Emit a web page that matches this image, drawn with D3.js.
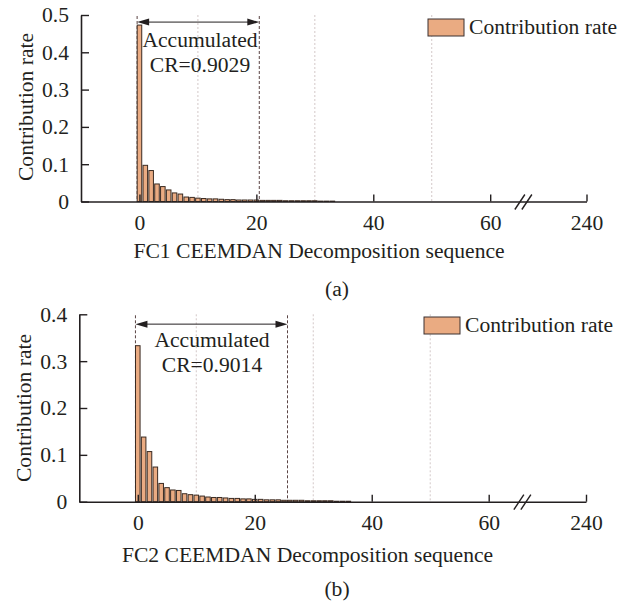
<!DOCTYPE html>
<html>
<head>
<meta charset="utf-8">
<script src="https://cdn.jsdelivr.net/npm/d3@7"></script>
<style>
  html, body { margin: 0; padding: 0; background: #fff; }
  svg { display: block; }
  text { font-family: "Liberation Serif", "Times New Roman", serif; fill: #231f20; }
</style>
</head>
<body>
<svg id="chart" width="627" height="608"></svg>
<script>
// ---------------- data ----------------
const fc1Rates = [0.473, 0.097, 0.083, 0.047, 0.040, 0.031, 0.023, 0.020, 0.012, 0.011,
                  0.009, 0.008, 0.007, 0.007, 0.006, 0.005, 0.005, 0.004, 0.004, 0.004,
                  0.004, 0.003, 0.003, 0.003, 0.003, 0.002, 0.002, 0.002, 0.002, 0.002,
                  0.002, 0.001, 0.001, 0.001];
const fc2Rates = [0.333, 0.138, 0.107, 0.074, 0.039, 0.030, 0.025, 0.024, 0.017, 0.015,
                  0.014, 0.012, 0.010, 0.009, 0.009, 0.008, 0.007, 0.007, 0.006, 0.006,
                  0.005, 0.005, 0.004, 0.004, 0.004, 0.003, 0.003, 0.003, 0.003, 0.002,
                  0.002, 0.002, 0.002, 0.002, 0.001, 0.001, 0.001];
const xTicks = [0, 20, 40, 60, 240];
const xDomain = [-10, 60, 240];
const yTicksA = [0, 0.1, 0.2, 0.3, 0.4, 0.5];
const yTicksB = [0, 0.1, 0.2, 0.3, 0.4];
const gridValues = [10, 30, 50];
const spanA = [-0.4, 20.5];
const spanB = [-0.4, 25.6];
const crLabelA = ["Accumulated", "CR=0.9029"];
const crLabelB = ["Accumulated", "CR=0.9014"];
const xTitleA = "FC1 CEEMDAN Decomposition sequence";
const xTitleB = "FC2 CEEMDAN Decomposition sequence";
const yTitle = "Contribution rate";
const legendLabel = "Contribution rate";
const panelTags = ["(a)", "(b)"];

// ---------------- style ----------------
const barFill = "#eaab82";
const barStroke = "#3b2b22";
const ink = "#231f20";
const FS = 21.6;

const svg = d3.select("#chart");

function drawPanel(p) {
  const g = svg.append("g");
  const x = d3.scaleLinear().domain(xDomain).range([p.left, p.x60, p.right]);
  const y = d3.scaleLinear().domain([0, p.yMax]).range([p.bottom, p.top]);

  // light dotted grid lines
  g.selectAll("line.grid").data(gridValues).enter().append("line")
    .attr("x1", d => x(d)).attr("x2", d => x(d))
    .attr("y1", y(p.yMax)).attr("y2", y(0))
    .attr("stroke", "#d3c8c8").attr("stroke-width", 1).attr("stroke-dasharray", "2,2");

  // dark dashed span lines
  g.selectAll("line.span").data(p.span).enter().append("line")
    .attr("x1", d => x(d)).attr("x2", d => x(d))
    .attr("y1", y(p.yMax) + 1).attr("y2", y(0))
    .attr("stroke", "#5a4444").attr("stroke-width", 1).attr("stroke-dasharray", "3,2");

  // bars
  const data = p.values.map((v, i) => ({ i, v }));
  g.selectAll("rect.bar").data(data).enter().append("rect")
    .attr("x", d => x(d.i - 0.39))
    .attr("width", d => x(d.i + 0.39) - x(d.i - 0.39))
    .attr("y", d => y(d.v))
    .attr("height", d => y(0) - y(d.v))
    .attr("fill", barFill).attr("stroke", barStroke).attr("stroke-width", 1);

  // y axis
  const yAxis = d3.axisLeft(y).tickValues(p.yTicks).tickSizeInner(-8).tickSizeOuter(0)
    .tickPadding(12).tickFormat(d => d === 0 ? "0" : d3.format(".1f")(d));
  const ya = g.append("g").attr("transform", `translate(${p.left},0)`).call(yAxis);
  ya.select(".domain").attr("stroke", ink).attr("stroke-width", 1.6);
  ya.selectAll(".tick line").attr("stroke", ink).attr("stroke-width", 1.4);
  ya.selectAll(".tick text").attr("font-size", FS).attr("font-family", "Liberation Serif").attr("fill", ink);

  // x axis
  const xAxis = d3.axisBottom(x).tickValues(xTicks).tickSizeInner(-7).tickSizeOuter(0)
    .tickPadding(13).tickFormat(d3.format("d"));
  const xa = g.append("g").attr("transform", `translate(0,${p.bottom})`).call(xAxis);
  xa.select(".domain").attr("stroke", ink).attr("stroke-width", 1.6);
  xa.selectAll(".tick line").attr("stroke", ink).attr("stroke-width", 1.4);
  xa.selectAll(".tick text").attr("font-size", FS).attr("font-family", "Liberation Serif").attr("fill", ink);

  // axis break marks
  const xb = (x(60) + x(240)) / 2 - 15;
  [-3.5, 3.5].forEach(o => {
    g.append("line")
      .attr("x1", xb + o - 5).attr("y1", p.bottom + 8)
      .attr("x2", xb + o + 5).attr("y2", p.bottom - 7)
      .attr("stroke", ink).attr("stroke-width", 1.4);
  });

  // accumulated arrow
  const ay = y(p.arrowAt);
  const ax0 = x(p.span[0]), ax1 = x(p.span[1]);
  g.append("line").attr("x1", ax0 + 10).attr("x2", ax1 - 10).attr("y1", ay).attr("y2", ay)
    .attr("stroke", ink).attr("stroke-width", 1);
  g.append("path").attr("d", `M${ax0},${ay} L${ax0 + 12},${ay - 3.5} L${ax0 + 12},${ay + 3.5} Z`).attr("fill", ink);
  g.append("path").attr("d", `M${ax1},${ay} L${ax1 - 12},${ay - 3.5} L${ax1 - 12},${ay + 3.5} Z`).attr("fill", ink);

  // annotation text
  g.append("text").attr("x", p.annX).attr("y", p.annY).attr("text-anchor", "middle")
    .attr("font-size", FS).text(p.crLabel[0]);
  g.append("text").attr("x", p.annX).attr("y", p.annY + 25).attr("text-anchor", "middle")
    .attr("font-size", FS).text(p.crLabel[1]);

  // legend
  g.append("rect").attr("x", p.legX).attr("y", p.legY).attr("width", 36).attr("height", 17)
    .attr("fill", barFill).attr("stroke", "#3a3030").attr("stroke-width", 1);
  g.append("text").attr("x", p.legX + 41).attr("y", p.legY + 14.5).attr("font-size", FS).text(legendLabel);

  // y title
  g.append("text").attr("transform", `translate(${p.yTitleX},${p.yTitleY}) rotate(-90)`)
    .attr("text-anchor", "middle").attr("font-size", FS).text(yTitle);

  // x title
  g.append("text").attr("x", p.xTitleX).attr("y", p.xTitleY).attr("text-anchor", "middle")
    .attr("font-size", FS).text(p.xTitle);

  // panel tag
  g.append("text").attr("x", p.tagX).attr("y", p.tagY).attr("text-anchor", "middle")
    .attr("font-size", FS).text(p.tag);
}

drawPanel({
  values: fc1Rates, yMax: 0.5, yTicks: yTicksA, span: spanA, crLabel: crLabelA, arrowAt: 0.481,
  left: 81, x60: 490.2, right: 586.5, top: 15, bottom: 201.5,
  annX: 200, annY: 47, legX: 428, legY: 19,
  yTitleX: 33, yTitleY: 107, xTitle: xTitleA, xTitleX: 319, xTitleY: 258,
  tag: panelTags[0], tagX: 337, tagY: 296
});

drawPanel({
  values: fc2Rates, yMax: 0.4, yTicks: yTicksB, span: spanB, crLabel: crLabelB, arrowAt: 0.379,
  left: 79.3, x60: 488.7, right: 586, top: 314.3, bottom: 501.7,
  annX: 212, annY: 346.7, legX: 424, legY: 317,
  yTitleX: 31, yTitleY: 408, xTitle: xTitleB, xTitleX: 307.5, xTitleY: 562,
  tag: panelTags[1], tagX: 337, tagY: 596
});
</script>
</body>
</html>
